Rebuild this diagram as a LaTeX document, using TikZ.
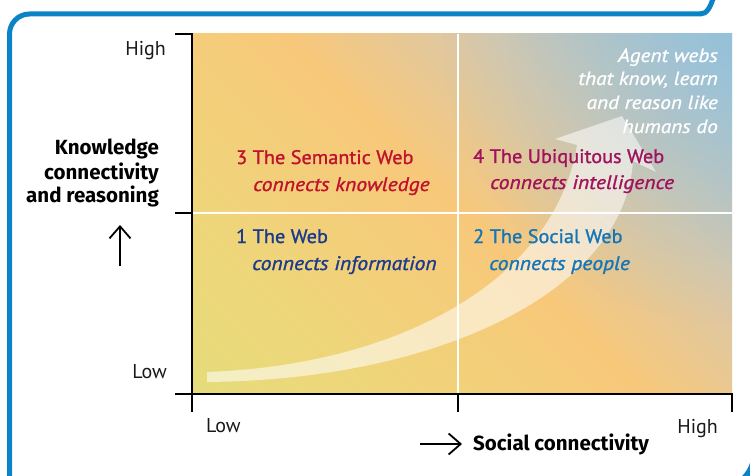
\documentclass[tikz,border=0pt]{standalone}
\usepackage{fontspec}
\setmainfont{PT Sans}
\newfontfamily\qhfont{PT Sans}[FakeBold=1.2, FakeStretch=1.04]
\newfontfamily\qifont{PT Sans}[FakeBold=1.2, FakeStretch=1.11]
\newfontfamily\agfont{PT Sans}[FakeBold=1.0, FakeStretch=1.12]
\newfontfamily\ttlfont{Fira Sans}
\usetikzlibrary{arrows.meta,fadings}
\tikzfading[name=tintfade, inner color=transparent!0, outer color=transparent!100]
\definecolor{frameblue}{HTML}{0A84C6}
\definecolor{gA}{HTML}{DCE07A}
\definecolor{gB}{HTML}{ECD87A}
\definecolor{gC}{HTML}{F8C87A}
\definecolor{gD}{HTML}{D9C8AA}
\definecolor{gE}{HTML}{ABC4CE}
\definecolor{gF}{HTML}{86BEE2}
\definecolor{tintblue}{HTML}{8CC0E0}
\definecolor{semred}{HTML}{C0122E}
\definecolor{webblue}{HTML}{1B3A8C}
\definecolor{ubimag}{HTML}{A0125C}
\definecolor{socblue}{HTML}{1475B8}
\pgfdeclareverticalshading{quadbg}{100bp}{color(0bp)=(gA); color(25bp)=(gB); color(50bp)=(gC); color(66bp)=(gD); color(81bp)=(gE); color(100bp)=(gF)}
\tikzset{
 framepen/.style={draw=frameblue, line width=5pt},
 axispen/.style={draw=black, line width=1.8pt},
 dividerpen/.style={draw=white, line width=2.5pt},
 ticklab/.style={inner sep=0pt, font=\fontsize{20}{24}\selectfont, text=black!90},
 ytitle/.style={inner sep=0pt, font=\ttlfont\bfseries\fontsize{20.5}{24}\selectfont, anchor=base east},
 qhead/.style={inner sep=0pt, font=\qhfont\fontsize{19.5}{23}\selectfont, anchor=base west},
 qsub/.style={inner sep=0pt, font=\qifont\itshape\fontsize{19.5}{23}\selectfont, anchor=base west},
 agent/.style={inner sep=0pt, font=\agfont\itshape\fontsize{19}{22}\selectfont, text=white, anchor=base east},
 barbarrow/.style={draw=black, line width=1.8pt, -{Straight Barb[length=12pt,width=21pt]}}
}
\begin{document}
\begin{tikzpicture}[x=1pt,y=-1pt]
\useasboundingbox (0,0) rectangle (750,476);
% frame
\draw[framepen, rounded corners=20pt] (9.5,490) -- (9.5,14) -- (701,14);
\draw[framepen] (700,14) .. controls (707,14) and (710,8) .. (714,-4);
\draw[framepen, line width=7pt] (756,452) .. controls (754,466) and (750,474) .. (741,482);
% background
\shade[shading=quadbg, shading angle=-45] (193,34) rectangle (732,393);
\begin{scope}
\clip (193,34) rectangle (732,393);
\fill[tintblue, opacity=0.55, path fading=tintfade] (732,34) circle[radius=290pt];
\end{scope}
\draw[dividerpen] (193,213) -- (732,213);
\draw[dividerpen] (458,34) -- (458,393);
% big arrow
\fill[white, opacity=0.55] (207,372) .. controls (400,365) and (555,280) .. (577,145) -- (555,139) -- (622,116) -- (656,172) -- (633,161) .. controls (625,290) and (440,380) .. (207,382) -- cycle;
% axes
\draw[axispen] (175,34) -- (192,34) -- (192,412);
\draw[axispen] (175,213) -- (192,213);
\draw[axispen] (175,394) -- (732,394) -- (732,412);
\draw[axispen] (458,394) -- (458,412);
% tick labels
\node[ticklab, anchor=base east] (yhigh) at (166,56) {High};
\node[ticklab, anchor=base east] (ylow) at (167,378) {Low};
\node[ticklab, anchor=base west] (xlow) at (206,432) {Low};
\node[ticklab, anchor=base east] (xhigh) at (718,433) {High};
% axis titles
\node[ytitle] (yt1) at (159,155) {Knowledge};
\node[ytitle] (yt2) at (159,179) {connectivity};
\node[ytitle] (yt3) at (159,203) {and reasoning};
\coordinate (upS) at (120,266);
\coordinate (upE) at (120,225);
\draw[barbarrow] (upS) -- (upE);
\coordinate (rtS) at (420,444);
\coordinate (rtE) at (462,444);
\draw[barbarrow] (rtS) -- (rtE);
\node[ytitle, anchor=base west] (xt) at (473,450) {Social connectivity};
% quadrant labels
\node[qhead, text=semred] (q3a) at (236,164) {3 The Semantic Web};
\node[qsub, text=semred] (q3b) at (253,191) {connects knowledge};
\node[qhead, text=webblue] (q1a) at (236,243) {1 The Web};
\node[qsub, text=webblue] (q1b) at (252,270) {connects information};
\node[qhead, text=ubimag] (q4a) at (473,163) {4 The Ubiquitous Web};
\node[qsub, text=ubimag] (q4b) at (490,189) {connects intelligence};
\node[qhead, text=socblue] (q2a) at (473,243) {2 The Social Web};
\node[qsub, text=socblue] (q2b) at (489,270) {connects people};
% agent text
\node[agent] (ag1) at (718,62) {Agent webs};
\node[agent] (ag2) at (718,85) {that know, learn};
\node[agent] (ag3) at (718,109) {and reason like};
\node[agent] (ag4) at (718,133) {humans do};
\end{tikzpicture}
\end{document}
